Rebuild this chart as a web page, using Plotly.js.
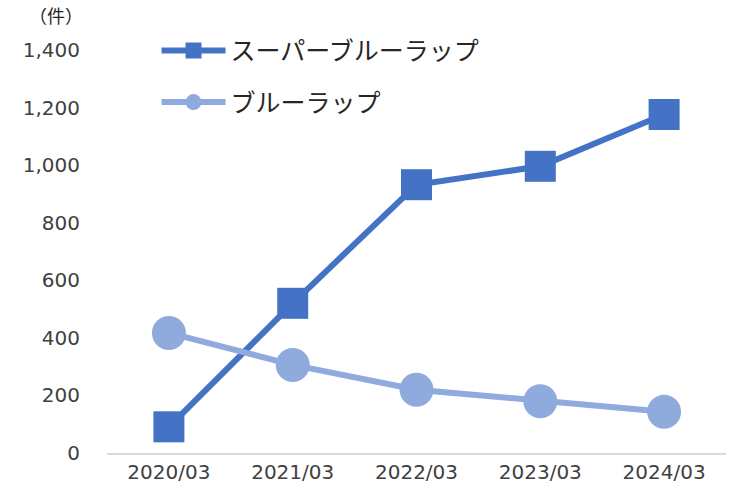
<!DOCTYPE html>
<html>
<head>
<meta charset="utf-8">
<script src="https://cdn.plot.ly/plotly-3.0.1.min.js"></script>
<style>html,body{margin:0;padding:0;background:#fff;}#chart{width:740px;height:500px;}</style>
</head>
<body>
<div id="chart"></div>
<script>
const categories = ["2020/03", "2021/03", "2022/03", "2023/03", "2024/03"];
const superBlueWrap = [91, 520, 932, 996, 1176];
const blueWrap = [417, 306, 220, 180, 143];
const seriesNames = ["スーパーブルーラップ", "ブルーラップ"];
const unitLabel = "（件）";
const yTicks = [0, 200, 400, 600, 800, 1000, 1200, 1400];

const traces = [
  {
    x: categories, y: superBlueWrap, name: seriesNames[0], type: "scatter", mode: "lines+markers",
    legendgroup: "a",
    line: {color: "#4472C4", width: 6},
    marker: {symbol: "square", size: 31, color: "#4472C4"}
  },
  {
    x: categories, y: blueWrap, name: seriesNames[1], type: "scatter", mode: "lines+markers",
    legendgroup: "b",
    line: {color: "#8FAADC", width: 6},
    marker: {symbol: "circle", size: 34, color: "#8FAADC"}
  }
];

const layout = {
  width: 740, height: 500,
  margin: {l: 107, r: 14, t: 50, b: 47},
  paper_bgcolor: "#fff", plot_bgcolor: "#fff",
  font: {family: "DejaVu Sans, Verdana, sans-serif", color: "#404040", size: 20},
  showlegend: true,
  legend: {
    x: 0.08, y: 1.055, xanchor: "left", yanchor: "top",
    font: {family: "Noto Sans CJK JP, sans-serif", size: 25, color: "#262626"},
    tracegroupgap: 16, itemwidth: 64, bgcolor: "rgba(0,0,0,0)"
  },
  xaxis: {
    type: "category", showgrid: false, zeroline: false,
    showline: true, linecolor: "#D9D9D9", linewidth: 2,
    ticks: "", tickfont: {size: 20, color: "#404040"},
    range: [-0.5, 4.5]
  },
  yaxis: {
    range: [0, 1400], showgrid: false, zeroline: false, showline: false,
    tickvals: yTicks, tickformat: ",d", ticks: "",
    tickfont: {size: 20, color: "#404040"}, ticklabelstandoff: 26
  },
  annotations: [{
    text: unitLabel, xref: "paper", yref: "paper", x: -0.13, y: 1.087,
    xanchor: "left", yanchor: "middle", showarrow: false,
    font: {family: "Noto Sans CJK JP, sans-serif", size: 18, color: "#262626"}
  }]
};

Plotly.newPlot("chart", traces, layout, {displayModeBar: false, staticPlot: true});
</script>
</body>
</html>
